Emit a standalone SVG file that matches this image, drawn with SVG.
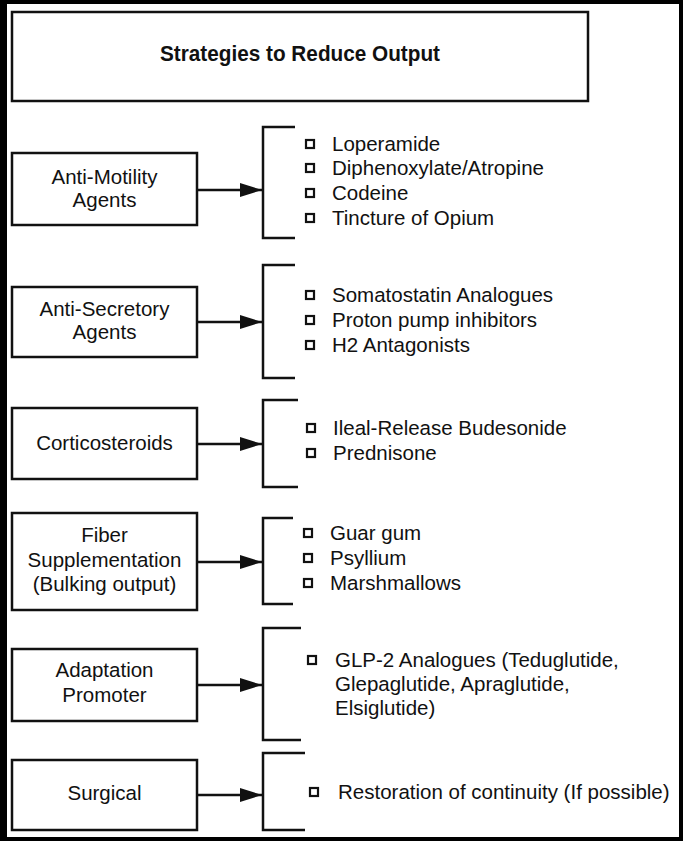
<svg xmlns="http://www.w3.org/2000/svg" width="683" height="841" viewBox="0 0 683 841">
<defs>
<style>
.box{fill:#fff;stroke:#111;stroke-width:2.5}
.t{font-family:"Liberation Sans",Arial,sans-serif;font-size:20.5px;fill:#111}
.c{text-anchor:middle}
.title{font-weight:bold;font-size:22px}
.br{fill:none;stroke:#111;stroke-width:2.5}
.bul{fill:#fff;stroke:#111;stroke-width:2.2}
.ar{stroke:#111;stroke-width:2.5;fill:none;marker-end:url(#ah)}
</style>
<marker id="ah" viewBox="0 0 22 14" markerWidth="22" markerHeight="14" refX="22" refY="7" markerUnits="userSpaceOnUse" orient="auto">
<path d="M0,0 L22,7 L0,14 z" fill="#111"/>
</marker>
</defs>
<rect x="0" y="0" width="683" height="841" fill="#000"/>
<rect x="7" y="4" width="672" height="833" fill="#fff"/>

<g id="title">
<rect class="box" x="12" y="12" width="576" height="89"/>
<text class="t c title" x="300" y="61" textLength="280" lengthAdjust="spacingAndGlyphs">Strategies to Reduce Output</text>
</g>

<g id="anti-motility">
<rect class="box" x="12" y="153" width="185" height="72"/>
<text class="t c" x="104.5" y="184">Anti-Motility</text>
<text class="t c" x="104.5" y="207">Agents</text>
</g>
<g id="anti-motility-list">
<path class="br" d="M295,127 H263 V238 H295"/>
<rect class="bul" x="306" y="140" width="8" height="8"/>
<rect class="bul" x="306" y="164" width="8" height="8"/>
<rect class="bul" x="306" y="189" width="8" height="8"/>
<rect class="bul" x="306" y="214" width="8" height="8"/>
<text class="t" x="332" y="151">Loperamide</text>
<text class="t" x="332" y="175">Diphenoxylate/Atropine</text>
<text class="t" x="332" y="200">Codeine</text>
<text class="t" x="332" y="225">Tincture of Opium</text>
</g>

<g id="anti-secretory">
<rect class="box" x="12" y="287" width="185" height="70"/>
<text class="t c" x="104.5" y="316">Anti-Secretory</text>
<text class="t c" x="104.5" y="339">Agents</text>
</g>
<g id="anti-secretory-list">
<path class="br" d="M295,265 H263 V378 H295"/>
<rect class="bul" x="306" y="291" width="8" height="8"/>
<rect class="bul" x="306" y="316" width="8" height="8"/>
<rect class="bul" x="306" y="341" width="8" height="8"/>
<text class="t" x="332" y="302">Somatostatin Analogues</text>
<text class="t" x="332" y="327">Proton pump inhibitors</text>
<text class="t" x="332" y="352">H2 Antagonists</text>
</g>

<g id="corticosteroids">
<rect class="box" x="12" y="408" width="185" height="71"/>
<text class="t c" x="104.5" y="450">Corticosteroids</text>
</g>
<g id="corticosteroids-list">
<path class="br" d="M298,400 H263 V487 H298"/>
<rect class="bul" x="307" y="424" width="8" height="8"/>
<rect class="bul" x="307" y="449" width="8" height="8"/>
<text class="t" x="333" y="435">Ileal-Release Budesonide</text>
<text class="t" x="333" y="460">Prednisone</text>
</g>

<g id="fiber">
<rect class="box" x="12" y="513" width="185" height="97"/>
<text class="t c" x="104.5" y="542">Fiber</text>
<text class="t c" x="104.5" y="567">Supplementation</text>
<text class="t c" x="104.5" y="591">(Bulking output)</text>
</g>
<g id="fiber-list">
<path class="br" d="M293,518 H263 V604 H293"/>
<rect class="bul" x="304" y="529" width="8" height="8"/>
<rect class="bul" x="304" y="554" width="8" height="8"/>
<rect class="bul" x="304" y="579" width="8" height="8"/>
<text class="t" x="330" y="540">Guar gum</text>
<text class="t" x="330" y="565">Psyllium</text>
<text class="t" x="330" y="590">Marshmallows</text>
</g>

<g id="adaptation">
<rect class="box" x="12" y="649" width="185" height="72"/>
<text class="t c" x="104.5" y="677">Adaptation</text>
<text class="t c" x="104.5" y="702">Promoter</text>
</g>
<g id="adaptation-list">
<path class="br" d="M301,628 H263 V740 H301"/>
<rect class="bul" x="308" y="656" width="8" height="8"/>
<text class="t" x="335" y="667">GLP-2 Analogues (Teduglutide,</text>
<text class="t" x="335" y="691">Glepaglutide, Apraglutide,</text>
<text class="t" x="335" y="715">Elsiglutide)</text>
</g>

<g id="surgical">
<rect class="box" x="12" y="760" width="185" height="70"/>
<text class="t c" x="104.5" y="800">Surgical</text>
</g>
<g id="surgical-list">
<path class="br" d="M305,753 H263 V830 H305"/>
<rect class="bul" x="310" y="788" width="8" height="8"/>
<text class="t" x="338" y="799">Restoration of continuity (If possible)</text>
</g>

<g id="connectors">
<line class="ar" x1="198" y1="190" x2="262" y2="190"/>
<line class="ar" x1="198" y1="322" x2="262" y2="322"/>
<line class="ar" x1="198" y1="444" x2="262" y2="444"/>
<line class="ar" x1="198" y1="562" x2="262" y2="562"/>
<line class="ar" x1="198" y1="685" x2="262" y2="685"/>
<line class="ar" x1="198" y1="795" x2="262" y2="795"/>
</g>
</svg>
